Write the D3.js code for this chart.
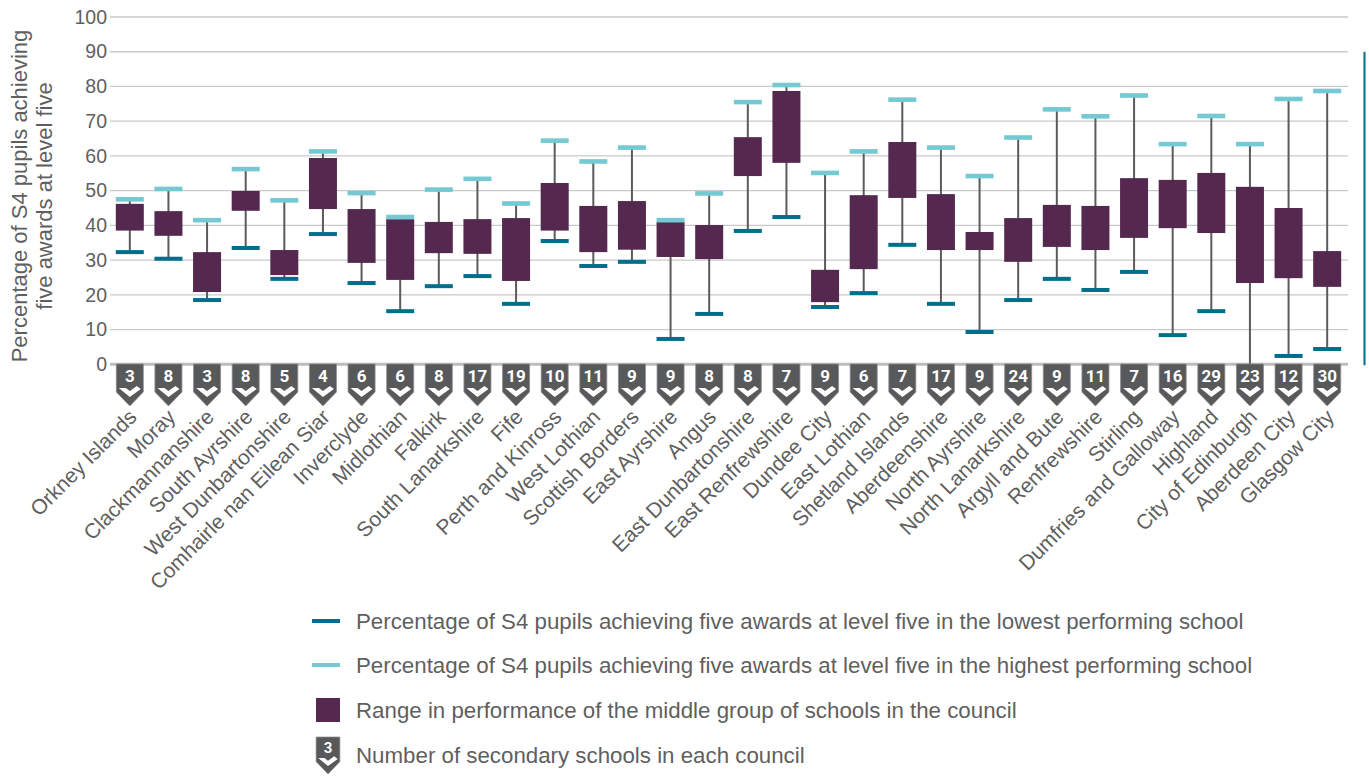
<!DOCTYPE html>
<html><head><meta charset="utf-8">
<script src="https://cdn.jsdelivr.net/npm/d3@7"></script>
<style>
html,body{margin:0;padding:0;background:#fff;}
svg{display:block;font-family:"Liberation Sans",Arial,sans-serif;}
</style></head>
<body>
<svg id="chart" width="1369" height="776"></svg>
<script>
const councils = ["Orkney Islands","Moray","Clackmannanshire","South Ayrshire","West Dunbartonshire","Comhairle nan Eilean Siar","Inverclyde","Midlothian","Falkirk","South Lanarkshire","Fife","Perth and Kinross","West Lothian","Scottish Borders","East Ayrshire","Angus","East Dunbartonshire","East Renfrewshire","Dundee City","East Lothian","Shetland Islands","Aberdeenshire","North Ayrshire","North Lanarkshire","Argyll and Bute","Renfrewshire","Stirling","Dumfries and Galloway","Highland","City of Edinburgh","Aberdeen City","Glasgow City"];
const schools = [3,8,3,8,5,4,6,6,8,17,19,10,11,9,9,8,8,7,9,6,7,17,9,24,9,11,7,16,29,23,12,30];
const highest = [47.5,50.5,41.5,56.2,47.2,61.3,49.3,42.4,50.3,53.4,46.3,64.4,58.4,62.4,41.5,49.2,75.5,80.4,55.1,61.3,76.2,62.4,54.2,65.3,73.4,71.4,77.4,63.4,71.5,63.4,76.4,78.7];
const middleTop = [46.2,44.1,32.3,49.9,32.9,59.4,44.7,41.8,41.0,41.8,42.1,52.2,45.6,47.0,41.0,40.1,65.4,78.7,27.2,48.7,64.0,49.0,38.1,42.1,45.9,45.6,53.6,53.1,55.1,51.1,45.0,32.6];
const middleBottom = [38.5,37.0,20.8,44.2,25.7,44.7,29.2,24.3,32.0,31.8,24.0,38.5,32.3,33.0,30.9,30.3,54.2,58.0,17.9,27.4,47.9,32.9,32.9,29.5,33.8,32.9,36.4,39.2,37.8,23.4,24.8,22.3];
const lowest = [32.3,30.4,18.5,33.5,24.6,37.5,23.4,15.3,22.5,25.4,17.4,35.5,28.3,29.5,7.3,14.5,38.4,42.4,16.5,20.5,34.4,17.4,9.3,18.5,24.6,21.4,26.6,8.4,15.3,0,2.4,4.4];
const yTicks = [0,10,20,30,40,50,60,70,80,90,100];
const yTitle = ["Percentage of S4 pupils achieving","five awards at level five"];
const legendLabels = [
  "Percentage of S4 pupils achieving five awards at level five in the lowest performing school",
  "Percentage of S4 pupils achieving five awards at level five in the highest performing school",
  "Range in performance of the middle group of schools in the council",
  "Number of secondary schools in each council"
];

const C = {low:"#006f8c", high:"#74c9d2", box:"#55284f", whisk:"#5b5b5b", badge:"#58595b", grid:"#c9c9c9", text:"#5f5f5f"};

const svg = d3.select("#chart");
const x = d3.scaleBand().domain(councils).range([110.5, 1346.5]).padding(0);
const y = d3.scaleLinear().domain([0,100]).range([364.3, 17]);
const bw = 28;
const data = councils.map((c,i)=>({c, n:schools[i], hi:highest[i], t:middleTop[i], b:middleBottom[i], lo:lowest[i]}));
const cx = d => x(d.c) + x.bandwidth()/2;

// gridlines
svg.append("g").selectAll("line").data(yTicks).join("line")
  .attr("x1",110).attr("x2",1348)
  .attr("y1",d=>y(d)).attr("y2",d=>y(d))
  .attr("stroke",d=>d===0?"#bdbdbd":C.grid).attr("stroke-width",d=>d===0?3:1.3);

// y axis labels
const yAxis = d3.axisLeft(y).tickValues(yTicks).tickSize(0).tickPadding(0);
const ga = svg.append("g").attr("transform","translate(107,0)").call(yAxis);
ga.select(".domain").remove();
ga.selectAll("text").attr("font-size",19.5).attr("fill",C.text).attr("font-family","'Liberation Sans',Arial,sans-serif");

// y title
const yt = svg.append("text").attr("transform","translate(34,196) rotate(-90)")
  .attr("text-anchor","middle").attr("font-size",22).attr("fill",C.text);
yTitle.forEach((s,i)=>yt.append("tspan").attr("x",0).attr("dy",i===0?"-0.3em":"1.1em").text(s));

// right decorative line
svg.append("line").attr("x1",1364.5).attr("x2",1364.5).attr("y1",y(90)).attr("y2",y(0)+1)
  .attr("stroke",C.low).attr("stroke-width",2);

const g = svg.append("g");
// whiskers
g.selectAll(".wh").data(data).join("line")
  .attr("x1",cx).attr("x2",cx).attr("y1",d=>y(d.lo)).attr("y2",d=>y(d.hi))
  .attr("stroke",C.whisk).attr("stroke-width",2);
// boxes
g.selectAll(".bx").data(data).join("rect")
  .attr("x",d=>cx(d)-bw/2).attr("width",bw)
  .attr("y",d=>y(d.t)).attr("height",d=>y(d.b)-y(d.t)).attr("fill",C.box);
// high caps
g.selectAll(".hc").data(data).join("rect")
  .attr("x",d=>cx(d)-bw/2).attr("width",bw)
  .attr("y",d=>y(d.hi)-2.3).attr("height",4.6).attr("fill",C.high);
// low caps
g.selectAll(".lc").data(data.filter(d=>d.lo>0)).join("rect")
  .attr("x",d=>cx(d)-bw/2).attr("width",bw)
  .attr("y",d=>y(d.lo)-2).attr("height",4).attr("fill",C.low);

function badgePath(c, top){
  const w=13.5;
  return `M${c-w},${top} L${c+w},${top} L${c+w},${top+28} L${c},${top+42} L${c-w},${top+28} Z`;
}
function chevPath(c, top){
  return `M${c-11},${top+24} L${c-4},${top+24} L${c},${top+27} L${c+7},${top+22} L${c+11},${top+25} L${c},${top+33} Z`;
}
function badge(sel, c, top, n){
  sel.append("path").attr("d",badgePath(c,top)).attr("fill",C.badge).attr("stroke","#8b8b8d").attr("stroke-width",0.8);
  sel.append("path").attr("d",chevPath(c,top)).attr("fill","#fff");
  sel.append("text").attr("x",c).attr("y",top+12).attr("dy","0.36em").attr("text-anchor","middle")
    .attr("font-family","Roboto,'Liberation Sans',sans-serif").attr("font-weight","bold")
    .attr("font-size",17).attr("fill","#fff").text(n);
}
data.forEach(d=>badge(svg.append("g"), cx(d), 364, d.n));

// category labels
svg.append("g").selectAll("text").data(data).join("text")
  .attr("transform",d=>`translate(${cx(d)+3},413) rotate(-45)`)
  .attr("text-anchor","end").attr("dy","0.35em")
  .attr("font-size",21).attr("fill",C.text).text(d=>d.c);

// legend
const lg = svg.append("g");
const ly = [621,665,710,755];
lg.append("rect").attr("x",312).attr("y",ly[0]-2).attr("width",28).attr("height",4).attr("fill",C.low);
lg.append("rect").attr("x",312).attr("y",ly[1]-2).attr("width",28).attr("height",4).attr("fill",C.high);
lg.append("rect").attr("x",316).attr("y",ly[2]-12).attr("width",24).attr("height",24).attr("fill",C.box);
const lb = lg.append("g").attr("transform",`translate(328,737) scale(0.88)`);
badge(lb, 0, 0, 3);
lg.selectAll(".lt").data(legendLabels).join("text")
  .attr("x",356).attr("y",(d,i)=>ly[i]).attr("dy","0.35em")
  .attr("font-size",22.3).attr("fill",C.text).text(d=>d);
</script>
</body></html>
